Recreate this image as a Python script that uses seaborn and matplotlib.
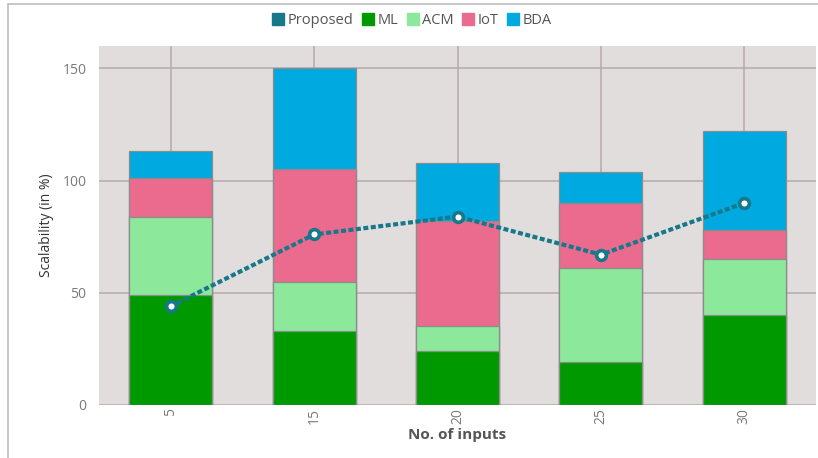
import numpy as np
import pandas as pd
import matplotlib
matplotlib.use("Agg")
import matplotlib.pyplot as plt
from matplotlib.lines import Line2D
import seaborn as sns

# Scalability by number of inputs
inputs = ["5", "15", "20", "25", "30"]
ml = [49, 33, 24, 19, 40]
acm = [35, 22, 11, 42, 25]
iot = [17, 50, 47, 29, 13]
bda = [12, 45, 26, 14, 44]
proposed = [44, 76, 84, 67, 90]

series_names = ["ML", "ACM", "IoT", "BDA"]
series_values = [ml, acm, iot, bda]
colors = {"Proposed": "#16788a", "ML": "#009a00", "ACM": "#8ce89a",
          "IoT": "#ea6b8d", "BDA": "#00a9df"}

sns.set_theme(style="white")
plt.rcParams["font.family"] = ["Open Sans", "DejaVu Sans"]

fig = plt.figure(figsize=(8.18, 4.58), dpi=100)
ax = fig.add_axes([99 / 818, 53 / 458, 717 / 818, 359 / 458])
ax.set_facecolor("#e1dddd")

# cumulative totals, drawn from the tallest stack down so each layer overlays the next
cum = np.cumsum(np.array(series_values), axis=0)
for name, top in reversed(list(zip(series_names, cum))):
    df = pd.DataFrame({"inputs": inputs, "value": top})
    sns.barplot(data=df, x="inputs", y="value", color=colors[name], width=0.58,
                edgecolor="#8c8c8c", linewidth=0.9, saturation=1, ax=ax, zorder=2)

# proposed scheme as a dotted line with hollow markers
ax_pos = np.arange(len(inputs))
sns.lineplot(x=ax_pos, y=proposed, color=colors["Proposed"], linestyle=(0, (1.2, 0.6)),
             linewidth=3, marker="o", markersize=7, markerfacecolor="white",
             markeredgecolor=colors["Proposed"], markeredgewidth=2.6, ax=ax, zorder=4)

ax.set_xlim(-0.5, 4.5)
ax.set_ylim(0, 160)
ax.set_yticks([0, 50, 100, 150])
ax.set_xticks(ax_pos)
ax.set_xticklabels(inputs, rotation=90)

ax.grid(True, axis="both", color="#b5a9a9", linewidth=1.1, zorder=0)
ax.set_axisbelow(True)
for s in ax.spines.values():
    s.set_visible(False)

ax.tick_params(axis="y", length=7, width=1.0, color="#b5a9a9", labelsize=10,
               labelcolor="#7a7a7a", pad=2)
ax.tick_params(axis="x", length=14, width=0.8, color="#e4e4e4", labelsize=10,
               labelcolor="#7a7a7a", pad=-12)

ax.set_xlabel("No. of inputs", fontsize=11, fontweight="bold", color="#555555", labelpad=3)
ax.set_ylabel("Scalability (in %)", fontsize=10, color="#333333", labelpad=6)

handles = [Line2D([0], [0], marker="s", linestyle="", markersize=9,
                  markerfacecolor=colors[n], markeredgecolor=colors[n])
           for n in ["Proposed", "ML", "ACM", "IoT", "BDA"]]
fig.legend(handles, ["Proposed", "ML", "ACM", "IoT", "BDA"], loc="center",
           bbox_to_anchor=(412 / 818, 1 - 21 / 458), ncol=5, frameon=False,
           fontsize=10.5, handlelength=0.8, handletextpad=0.25, columnspacing=0.6,
           labelcolor="#555555")

# thin outer frame on the top and left
fig.add_artist(Line2D([8 / 818, 8 / 818], [0, 1 - 4 / 458], color="#bdbdbd", linewidth=1.2))
fig.add_artist(Line2D([8 / 818, 1], [1 - 4 / 458, 1 - 4 / 458], color="#bdbdbd", linewidth=1.2))

fig.savefig("out.png", dpi=100)
